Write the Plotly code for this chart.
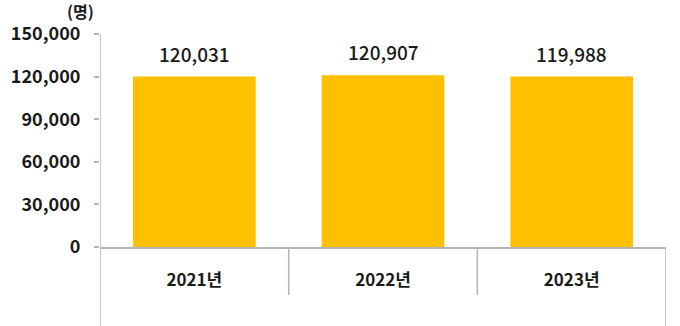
import plotly.graph_objects as go

# 연도별 인원 (명)
years = ["2021년", "2022년", "2023년"]
counts = [120031, 120907, 119988]
y_ticks = [0, 30000, 60000, 90000, 120000, 150000]
y_tick_labels = ["0", "30,000", "60,000", "90,000", "120,000", "150,000"]

BAR_COLOR = "#FFC000"
AXIS_COLOR = "#B4B4B4"
TEXT_COLOR = "#1A1A1A"
FONT = "Noto Sans CJK KR"

fig = go.Figure(
    go.Bar(
        x=years,
        y=counts,
        marker=dict(color=BAR_COLOR, line=dict(width=0)),
        width=0.65,
        hoverinfo="skip",
    )
)

# value labels above each bar
for yr, v in zip(years, counts):
    fig.add_annotation(
        x=yr, y=v, text=f"{v:,}", showarrow=False,
        yanchor="bottom", yshift=8,
        font=dict(family=FONT, size=19, color=TEXT_COLOR, weight=500),
    )

# unit label
fig.add_annotation(
    xref="paper", yref="paper", x=-0.035, y=1.0, yshift=23,
    text="(명)", showarrow=False, xanchor="center", yanchor="middle",
    font=dict(family=FONT, size=16, color=TEXT_COLOR, weight="bold"),
)

# category frame lines under the axis
plot_h = 326 - 34 - 79
shape_style = dict(type="line", line=dict(color=AXIS_COLOR, width=1.5))
fig.add_shape(xref="x", yref="paper", x0=-0.5, x1=-0.5, y0=1, y1=-79 / plot_h, **shape_style)
fig.add_shape(xref="x", yref="paper", x0=0.5, x1=0.5, y0=0, y1=-48 / plot_h, **shape_style)
fig.add_shape(xref="x", yref="paper", x0=1.5, x1=1.5, y0=0, y1=-48 / plot_h, **shape_style)
fig.add_shape(xref="x", yref="paper", x0=2.5, x1=2.5, y0=0, y1=-79 / plot_h, **shape_style)

fig.update_layout(
    width=680, height=326,
    margin=dict(l=100, r=14, t=34, b=79),
    paper_bgcolor="white", plot_bgcolor="white",
    showlegend=False,
    bargap=0.35,
    xaxis=dict(
        range=[-0.5, 2.5],
        showline=True, linecolor=AXIS_COLOR, linewidth=1.5,
        showgrid=False, ticks="", zeroline=False,
        ticklabelstandoff=17,
        tickfont=dict(family=FONT, size=17, color=TEXT_COLOR, weight="bold"),
        fixedrange=True,
    ),
    yaxis=dict(
        range=[0, 150000],
        tickvals=y_ticks, ticktext=y_tick_labels,
        showline=False, showgrid=False, zeroline=False,
        ticks="outside", ticklen=5, tickcolor=AXIS_COLOR, tickwidth=1.5,
        ticklabelstandoff=10,
        tickfont=dict(family=FONT, size=18, color=TEXT_COLOR, weight="bold"),
        fixedrange=True,
    ),
)

fig.write_html("out.html")
